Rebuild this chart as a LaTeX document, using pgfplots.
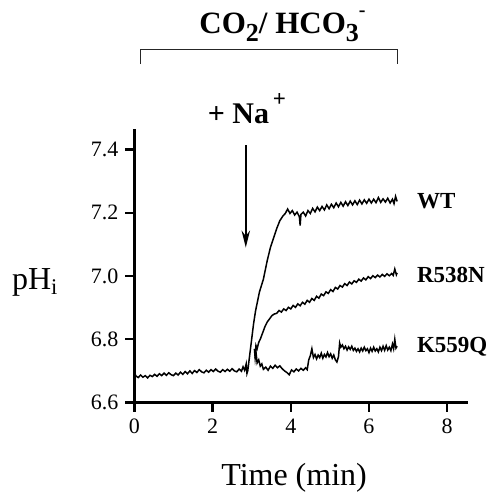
\documentclass[border=0pt]{standalone}
\usepackage{fontspec}
\setmainfont{Liberation Serif}
\usepackage{pgfplots}
\pgfplotsset{compat=1.18}
\usetikzlibrary{arrows.meta}

\begin{document}
\begin{tikzpicture}
\begin{axis}[
scale only axis,
width=166.8pt,
height=136.6pt,
xmin=0, xmax=8.53,
ymin=6.6, ymax=7.464,
axis x line=bottom,
axis y line=left,
axis line style={-, line width=1.2pt},
tick style={line width=1.2pt, black},
tick align=outside,
major tick length=4.5pt,
xtick={0,2,4,6,8},
ytick={6.6,6.8,7.0,7.2,7.4},
yticklabel style={/pgf/number format/.cd, fixed, fixed zerofill, precision=1},
/pgf/number format/assume math mode=true,
tick label style={font=\fontsize{11}{13}\selectfont},
clip=false,
]
% WT (baseline belongs to it)
\addplot [black, line width=0.75pt] coordinates {
(0.00,6.650) (0.01,6.692) (0.04,6.684) (0.10,6.679) (0.16,6.687) (0.22,6.680)
(0.28,6.685) (0.34,6.678) (0.40,6.686) (0.46,6.682) (0.52,6.689) (0.58,6.683)
(0.64,6.691) (0.70,6.685) (0.76,6.693) (0.82,6.686) (0.88,6.694) (0.94,6.688)
(1.00,6.685) (1.06,6.693) (1.12,6.687) (1.18,6.696) (1.24,6.689) (1.30,6.698)
(1.36,6.691) (1.42,6.700) (1.48,6.692) (1.54,6.701) (1.60,6.695) (1.66,6.704)
(1.72,6.697) (1.78,6.694) (1.84,6.702) (1.90,6.696) (1.96,6.704) (2.02,6.698)
(2.08,6.706) (2.14,6.699) (2.20,6.696) (2.26,6.704) (2.32,6.698) (2.38,6.705)
(2.44,6.699) (2.50,6.707) (2.56,6.700) (2.62,6.697) (2.68,6.706) (2.74,6.699)
(2.78,6.713) (2.82,6.702) (2.86,6.722) (2.88,6.692)
(2.90,6.700) (2.95,6.750) (3.00,6.800) (3.05,6.850) (3.10,6.890) (3.20,6.950)
(3.30,6.990) (3.40,7.050) (3.48,7.090) (3.56,7.120) (3.64,7.150) (3.72,7.175)
(3.80,7.190) (3.86,7.198) (3.92,7.212) (3.98,7.198) (4.04,7.207) (4.10,7.193)
(4.16,7.202) (4.22,7.188) (4.24,7.160) (4.26,7.195) (4.32,7.202) (4.38,7.190)
(4.44,7.207) (4.50,7.198) (4.56,7.214) (4.62,7.203) (4.68,7.218) (4.74,7.207)
(4.80,7.220) (4.86,7.209) (4.92,7.225) (4.98,7.213) (5.04,7.227) (5.10,7.216)
(5.16,7.231) (5.22,7.219) (5.28,7.233) (5.34,7.221) (5.40,7.235) (5.46,7.223)
(5.52,7.237) (5.58,7.225) (5.64,7.238) (5.70,7.226) (5.76,7.240) (5.82,7.228)
(5.88,7.241) (5.94,7.230) (6.00,7.243) (6.06,7.231) (6.12,7.243) (6.18,7.232)
(6.24,7.248) (6.30,7.233) (6.36,7.244) (6.42,7.234) (6.48,7.246) (6.54,7.231)
(6.60,7.243) (6.64,7.229) (6.68,7.252) (6.72,7.236)
};
% R538N
\addplot [black, line width=0.75pt] coordinates {
(3.09,6.740) (3.11,6.780) (3.14,6.770) (3.18,6.790) (3.22,6.800) (3.28,6.820)
(3.34,6.840) (3.40,6.855) (3.46,6.865) (3.52,6.875) (3.58,6.880) (3.64,6.882)
(3.70,6.891) (3.76,6.886) (3.82,6.896) (3.88,6.891) (3.94,6.901) (4.00,6.896)
(4.06,6.907) (4.12,6.901) (4.18,6.912) (4.24,6.906) (4.30,6.917) (4.36,6.911)
(4.42,6.923) (4.48,6.917) (4.54,6.929) (4.60,6.923) (4.66,6.936) (4.72,6.930)
(4.78,6.943) (4.84,6.938) (4.90,6.950) (4.96,6.945) (5.02,6.957) (5.08,6.951)
(5.14,6.964) (5.20,6.959) (5.26,6.970) (5.32,6.965) (5.38,6.976) (5.44,6.970)
(5.50,6.981) (5.56,6.975) (5.62,6.985) (5.68,6.980) (5.74,6.990) (5.80,6.984)
(5.86,6.994) (5.92,6.988) (5.98,6.998) (6.04,6.992) (6.10,7.001) (6.16,6.995)
(6.22,7.003) (6.28,6.997) (6.34,7.005) (6.40,6.999) (6.46,7.007) (6.52,7.001)
(6.58,7.008) (6.62,7.002) (6.66,7.022) (6.70,7.004) (6.72,7.010)
};
% K559Q
\addplot [black, line width=0.75pt] coordinates {
(3.07,6.770) (3.09,6.740) (3.11,6.760) (3.14,6.725) (3.18,6.735) (3.22,6.715)
(3.26,6.722) (3.30,6.705) (3.36,6.712) (3.42,6.702) (3.48,6.715) (3.54,6.708)
(3.60,6.718) (3.66,6.710) (3.72,6.716) (3.78,6.707) (3.84,6.700) (3.90,6.695)
(3.96,6.688) (4.02,6.703) (4.08,6.697) (4.14,6.706) (4.20,6.700) (4.26,6.708)
(4.32,6.702) (4.38,6.710) (4.42,6.704) (4.46,6.735) (4.50,6.748) (4.54,6.770)
(4.58,6.742) (4.62,6.752) (4.66,6.738) (4.70,6.750) (4.74,6.742) (4.78,6.756)
(4.82,6.740) (4.86,6.752) (4.90,6.744) (4.94,6.758) (4.98,6.745) (5.02,6.754)
(5.06,6.740) (5.10,6.750) (5.14,6.735) (5.18,6.728) (5.22,6.745) (5.25,6.788)
(5.28,6.775) (5.32,6.782) (5.36,6.770) (5.40,6.778) (5.44,6.766) (5.48,6.776)
(5.52,6.768) (5.56,6.778) (5.60,6.765) (5.64,6.772) (5.68,6.762) (5.72,6.770)
(5.76,6.760) (5.80,6.772) (5.84,6.763) (5.88,6.775) (5.92,6.764) (5.96,6.770)
(6.00,6.758) (6.04,6.772) (6.08,6.762) (6.12,6.775) (6.16,6.763) (6.20,6.770)
(6.24,6.760) (6.28,6.775) (6.32,6.764) (6.36,6.778) (6.40,6.765) (6.44,6.780)
(6.48,6.766) (6.52,6.775) (6.56,6.764) (6.60,6.785) (6.63,6.770) (6.66,6.800)
(6.69,6.772) (6.72,6.778)
};

% annotations
\draw [line width=0.7pt, black!85] (axis cs:0.164,7.67) -- (axis cs:0.164,7.717)
  -- (axis cs:6.73,7.717) -- (axis cs:6.73,7.67);
\node [anchor=base, font=\fontsize{15.5}{17}\selectfont\bfseries, inner sep=0pt]
  at (axis cs:3.79,7.767) {CO\raisebox{-4pt}{\fontsize{13}{14}\selectfont 2}/ HCO\raisebox{-4pt}{\fontsize{13}{14}\selectfont 3}\raisebox{8.5pt}{\fontsize{10}{11}\selectfont -}};
\node [anchor=base, font=\fontsize{15}{17}\selectfont\bfseries, inner sep=0pt]
  at (axis cs:2.88,7.483) {+ Na\raisebox{8.5pt}{\fontsize{11.5}{12}\selectfont\,+}};
\draw [line width=1pt, -{Stealth[length=8.5pt, width=4.2pt]}]
  (axis cs:2.85,7.414) -- (axis cs:2.85,7.09);
\node [anchor=west, font=\fontsize{11.5}{13}\selectfont\bfseries, inner sep=0pt]
  at (axis cs:7.22,7.236) {WT};
\node [anchor=west, font=\fontsize{11.5}{13}\selectfont\bfseries, inner sep=0pt]
  at (axis cs:7.22,7.003) {R538N};
\node [anchor=west, font=\fontsize{11.5}{13}\selectfont\bfseries, inner sep=0pt]
  at (axis cs:7.22,6.775) {K559Q};
\node [anchor=base west, font=\fontsize{16}{18}\selectfont, inner sep=0pt]
  at (axis cs:-3.135,6.958) {pH\textsubscript{i}};
\node [anchor=base, font=\fontsize{16}{18}\selectfont, inner sep=0pt]
  at (axis cs:4.085,6.339) {Time (min)};
% page frame
\path (axis cs:-3.435,6.3075) rectangle (axis cs:9.07,7.873);
\end{axis}
\end{tikzpicture}
\end{document}
